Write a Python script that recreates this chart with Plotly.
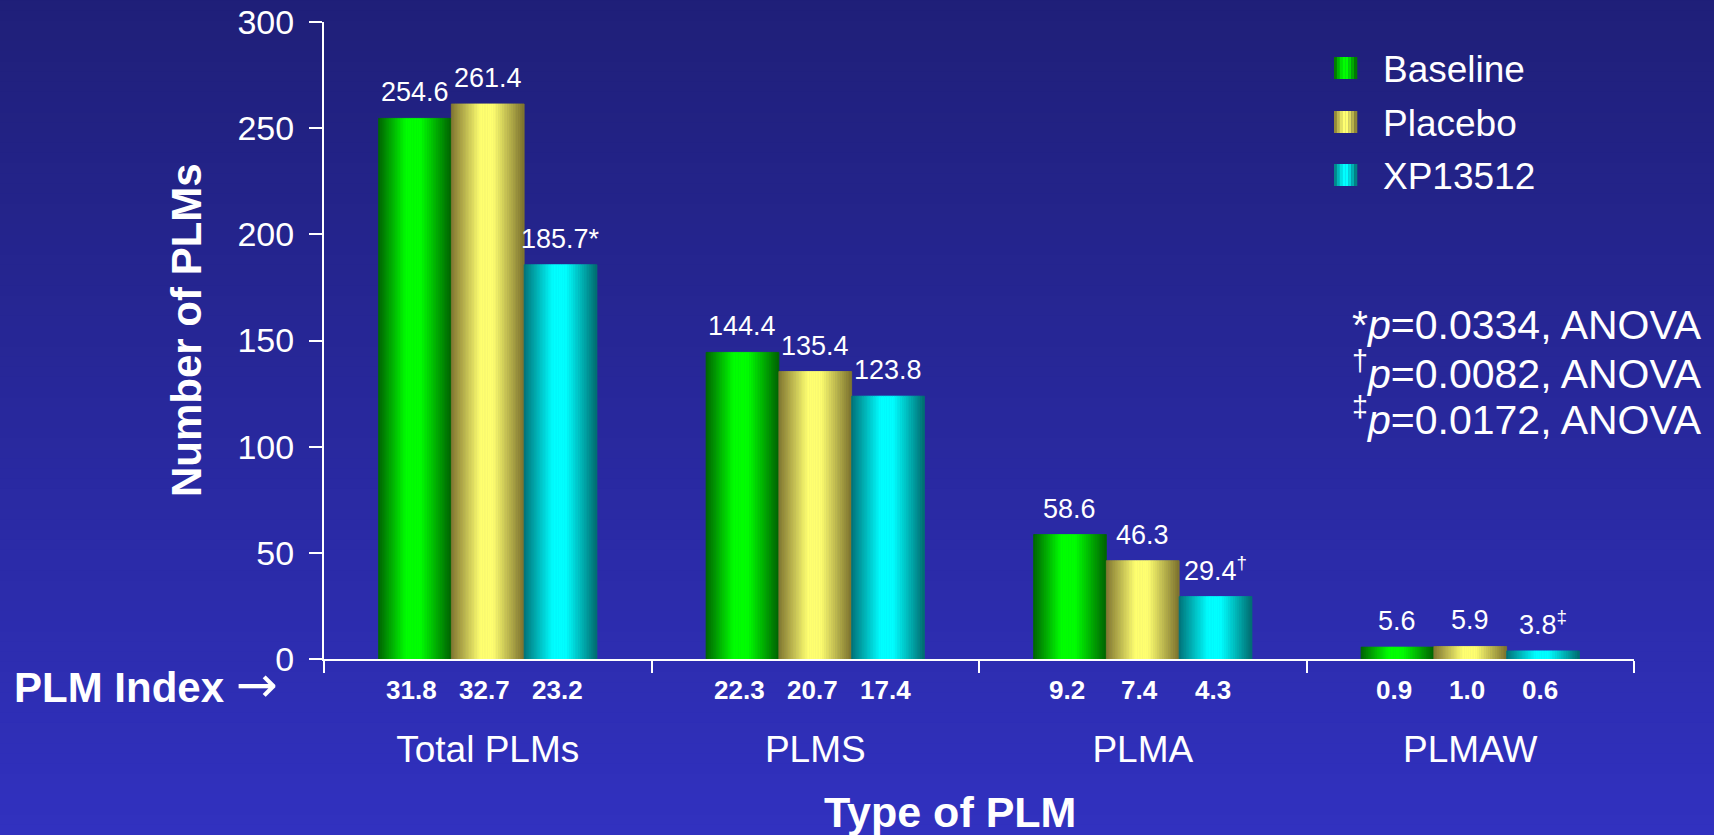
import plotly.graph_objects as go

# ---- data ----
categories = ["Total PLMs", "PLMS", "PLMA", "PLMAW"]
series_names = ["Baseline", "Placebo", "XP13512"]
baseline = [254.6, 144.4, 58.6, 5.6]
placebo = [261.4, 135.4, 46.3, 5.9]
xp13512 = [185.7, 123.8, 29.4, 3.8]
xp_marks = ["*", "", "<sup>†</sup>", "<sup>‡</sup>"]
index_baseline = [31.8, 22.3, 9.2, 0.9]
index_placebo = [32.7, 20.7, 7.4, 1.0]
index_xp = [23.2, 17.4, 4.3, 0.6]
y_ticks = [0, 50, 100, 150, 200, 250, 300]
stats_notes = [
    "*<i>p</i>=0.0334, ANOVA",
    "<sup>†</sup><i>p</i>=0.0082, ANOVA",
    "<sup>‡</sup><i>p</i>=0.0172, ANOVA",
]

# ---- styling ----
FONT = "Liberation Sans, Arial, sans-serif"
FIG_W, FIG_H = 1714, 835
M_L, M_R, M_T, M_B = 324, 80, 22, 176
PLOT_W = FIG_W - M_L - M_R
PLOT_H = FIG_H - M_T - M_B

# cylinder-like horizontal shading for each series: (position, rgb)
shading = {
    "Baseline": [(0.0, (0, 100, 0)), (0.38, (0, 255, 0)), (0.58, (0, 255, 0)), (1.0, (0, 100, 0))],
    "Placebo": [(0.0, (128, 118, 48)), (0.40, (255, 255, 112)), (0.58, (255, 255, 112)), (1.0, (125, 115, 45))],
    "XP13512": [(0.0, (0, 115, 120)), (0.40, (0, 255, 255)), (0.58, (0, 255, 255)), (1.0, (0, 110, 112))],
}

GROUP_W = 2 / 3
BAR_W = GROUP_W / 3
N_SLICES = 40


def shade(stops, t):
    for (p0, c0), (p1, c1) in zip(stops[:-1], stops[1:]):
        if p0 <= t <= p1:
            f = (t - p0) / (p1 - p0) if p1 > p0 else 0
            return "rgb({},{},{})".format(*[round(a + (b - a) * f) for a, b in zip(c0, c1)])
    return "rgb({},{},{})".format(*stops[-1][1])


def paper_x(px):
    return (px - M_L) / PLOT_W


def paper_y(py):
    return (FIG_H - M_B - py) / PLOT_H


fig = go.Figure()

series_values = [baseline, placebo, xp13512]
series_labels = [
    [f"{v:.1f}" for v in baseline],
    [f"{v:.1f}" for v in placebo],
    [f"{v:.1f}{m}" for v, m in zip(xp13512, xp_marks)],
]

cat_px = PLOT_W / len(categories)
bar_px = cat_px * BAR_W
annotations = []

for k, (name, vals, labels) in enumerate(zip(series_names, series_values, series_labels)):
    left = -GROUP_W / 2 + k * BAR_W
    # shaded fill built from thin vertical slices of the same bar
    for j in range(N_SLICES):
        t = (j + 0.5) / N_SLICES
        col = shade(shading[name], t)
        fig.add_trace(go.Bar(
            x=categories, y=vals,
            offset=left + j * BAR_W / N_SLICES,
            width=BAR_W / N_SLICES,
            marker=dict(color=col, line=dict(width=0.8, color=col)),
            hoverinfo="skip", showlegend=False,
        ))
    # full-width bar carrying the hover
    fig.add_trace(go.Bar(
        x=categories, y=vals, name=name,
        offset=left, width=BAR_W,
        marker=dict(color="rgba(0,0,0,0)", line=dict(width=0)),
        showlegend=False,
        hovertemplate=name + "<br>%{x}: %{y}<extra></extra>",
    ))
    # value labels above each bar
    for c, v, lab in zip(categories, vals, labels):
        annotations.append(dict(
            x=c, y=v, xref="x", yref="y", xshift=(k - 1) * bar_px, yshift=9,
            text=lab, showarrow=False, xanchor="center", yanchor="bottom",
            font=dict(family=FONT, size=27, color="white"),
        ))

# background: vertical gradient bands
shapes = []
N_BANDS = 84
top_c, bot_c = (31, 31, 120), (49, 49, 192)
band_h = (FIG_H + 20) / N_BANDS
for i in range(N_BANDS):
    y0 = -10 + i * band_h
    y1 = y0 + band_h + 1
    f = i / (N_BANDS - 1)
    col = "rgb({},{},{})".format(*[round(a + (b - a) * f) for a, b in zip(top_c, bot_c)])
    shapes.append(dict(
        type="rect", xref="paper", yref="paper", layer="below",
        x0=paper_x(-10), x1=paper_x(FIG_W + 10), y0=paper_y(y1), y1=paper_y(y0),
        fillcolor=col, line=dict(width=0),
    ))

# PLM index values under each bar
for k, idx in enumerate([index_baseline, index_placebo, index_xp]):
    for c, v in zip(categories, idx):
        annotations.append(dict(
            x=c, xref="x", y=paper_y(690), yref="paper",
            xshift=(k - 1) * bar_px - 3, text=f"<b>{v:.1f}</b>", showarrow=False,
            font=dict(family=FONT, size=26, color="white"),
            xanchor="center", yanchor="middle",
        ))

annotations.append(dict(
    x=paper_x(12), y=paper_y(685), xref="paper", yref="paper",
    text="<b>PLM Index</b> <span style=\"font-family:DejaVu Sans;font-size:50px\">→</span>",
    showarrow=False, xanchor="left", yanchor="middle",
    font=dict(family=FONT, size=42, color="white"),
))

# axis titles
annotations.append(dict(
    x=paper_x(950), y=paper_y(812), xref="paper", yref="paper",
    text="<b>Type of PLM</b>", showarrow=False, xanchor="center", yanchor="middle",
    font=dict(family=FONT, size=43, color="white"),
))
annotations.append(dict(
    x=paper_x(187), y=paper_y(330), xref="paper", yref="paper",
    text="<b>Number of PLMs</b>", showarrow=False, textangle=-90,
    xanchor="center", yanchor="middle",
    font=dict(family=FONT, size=42, color="white"),
))

# legend built from shaded swatches and labels
legend_rows = [68, 122, 175]
for name, yc in zip(series_names, legend_rows):
    n_strip = 8
    for j in range(n_strip):
        t = (j + 0.5) / n_strip
        shapes.append(dict(
            type="rect", xref="paper", yref="paper",
            x0=paper_x(1334 + j * 23 / n_strip), x1=paper_x(1334 + (j + 1) * 23 / n_strip + 0.3),
            y0=paper_y(yc + 11), y1=paper_y(yc - 11),
            fillcolor=shade(shading[name], t), line=dict(width=0),
        ))
    annotations.append(dict(
        x=paper_x(1381), y=paper_y(yc + 1), xref="paper", yref="paper",
        text=name, showarrow=False, xanchor="left", yanchor="middle",
        font=dict(family=FONT, size=37, color="white"),
    ))

# significance notes, one line each
for note, yc in zip(stats_notes, [325, 371, 417]):
    annotations.append(dict(
        x=paper_x(1704), y=paper_y(yc), xref="paper", yref="paper",
        text=note, showarrow=False, xanchor="right", yanchor="middle",
        font=dict(family=FONT, size=41, color="white"),
    ))

fig.update_layout(
    width=FIG_W, height=FIG_H,
    margin=dict(l=M_L, r=M_R, t=M_T, b=M_B, autoexpand=False),
    paper_bgcolor="rgb(31,31,120)", plot_bgcolor="rgba(0,0,0,0)",
    barmode="overlay", showlegend=False,
    font=dict(family=FONT, color="white"),
    shapes=shapes, annotations=annotations,
    xaxis=dict(
        type="category", range=[-0.5, 3.5], automargin=False,
        showline=True, linecolor="white", linewidth=2,
        ticks="outside", tickson="boundaries", ticklen=12, tickwidth=2, tickcolor="white",
        ticklabelstandoff=57,
        tickfont=dict(family=FONT, size=37, color="white"),
        showgrid=False, zeroline=False,
    ),
    yaxis=dict(
        range=[0, 300], tickvals=y_ticks, automargin=False,
        showline=True, linecolor="white", linewidth=2,
        ticks="outside", ticklen=13, tickwidth=2, tickcolor="white",
        ticklabelstandoff=8,
        tickfont=dict(family=FONT, size=34, color="white"),
        showgrid=False, zeroline=False,
    ),
)

fig.write_html("out.html")
